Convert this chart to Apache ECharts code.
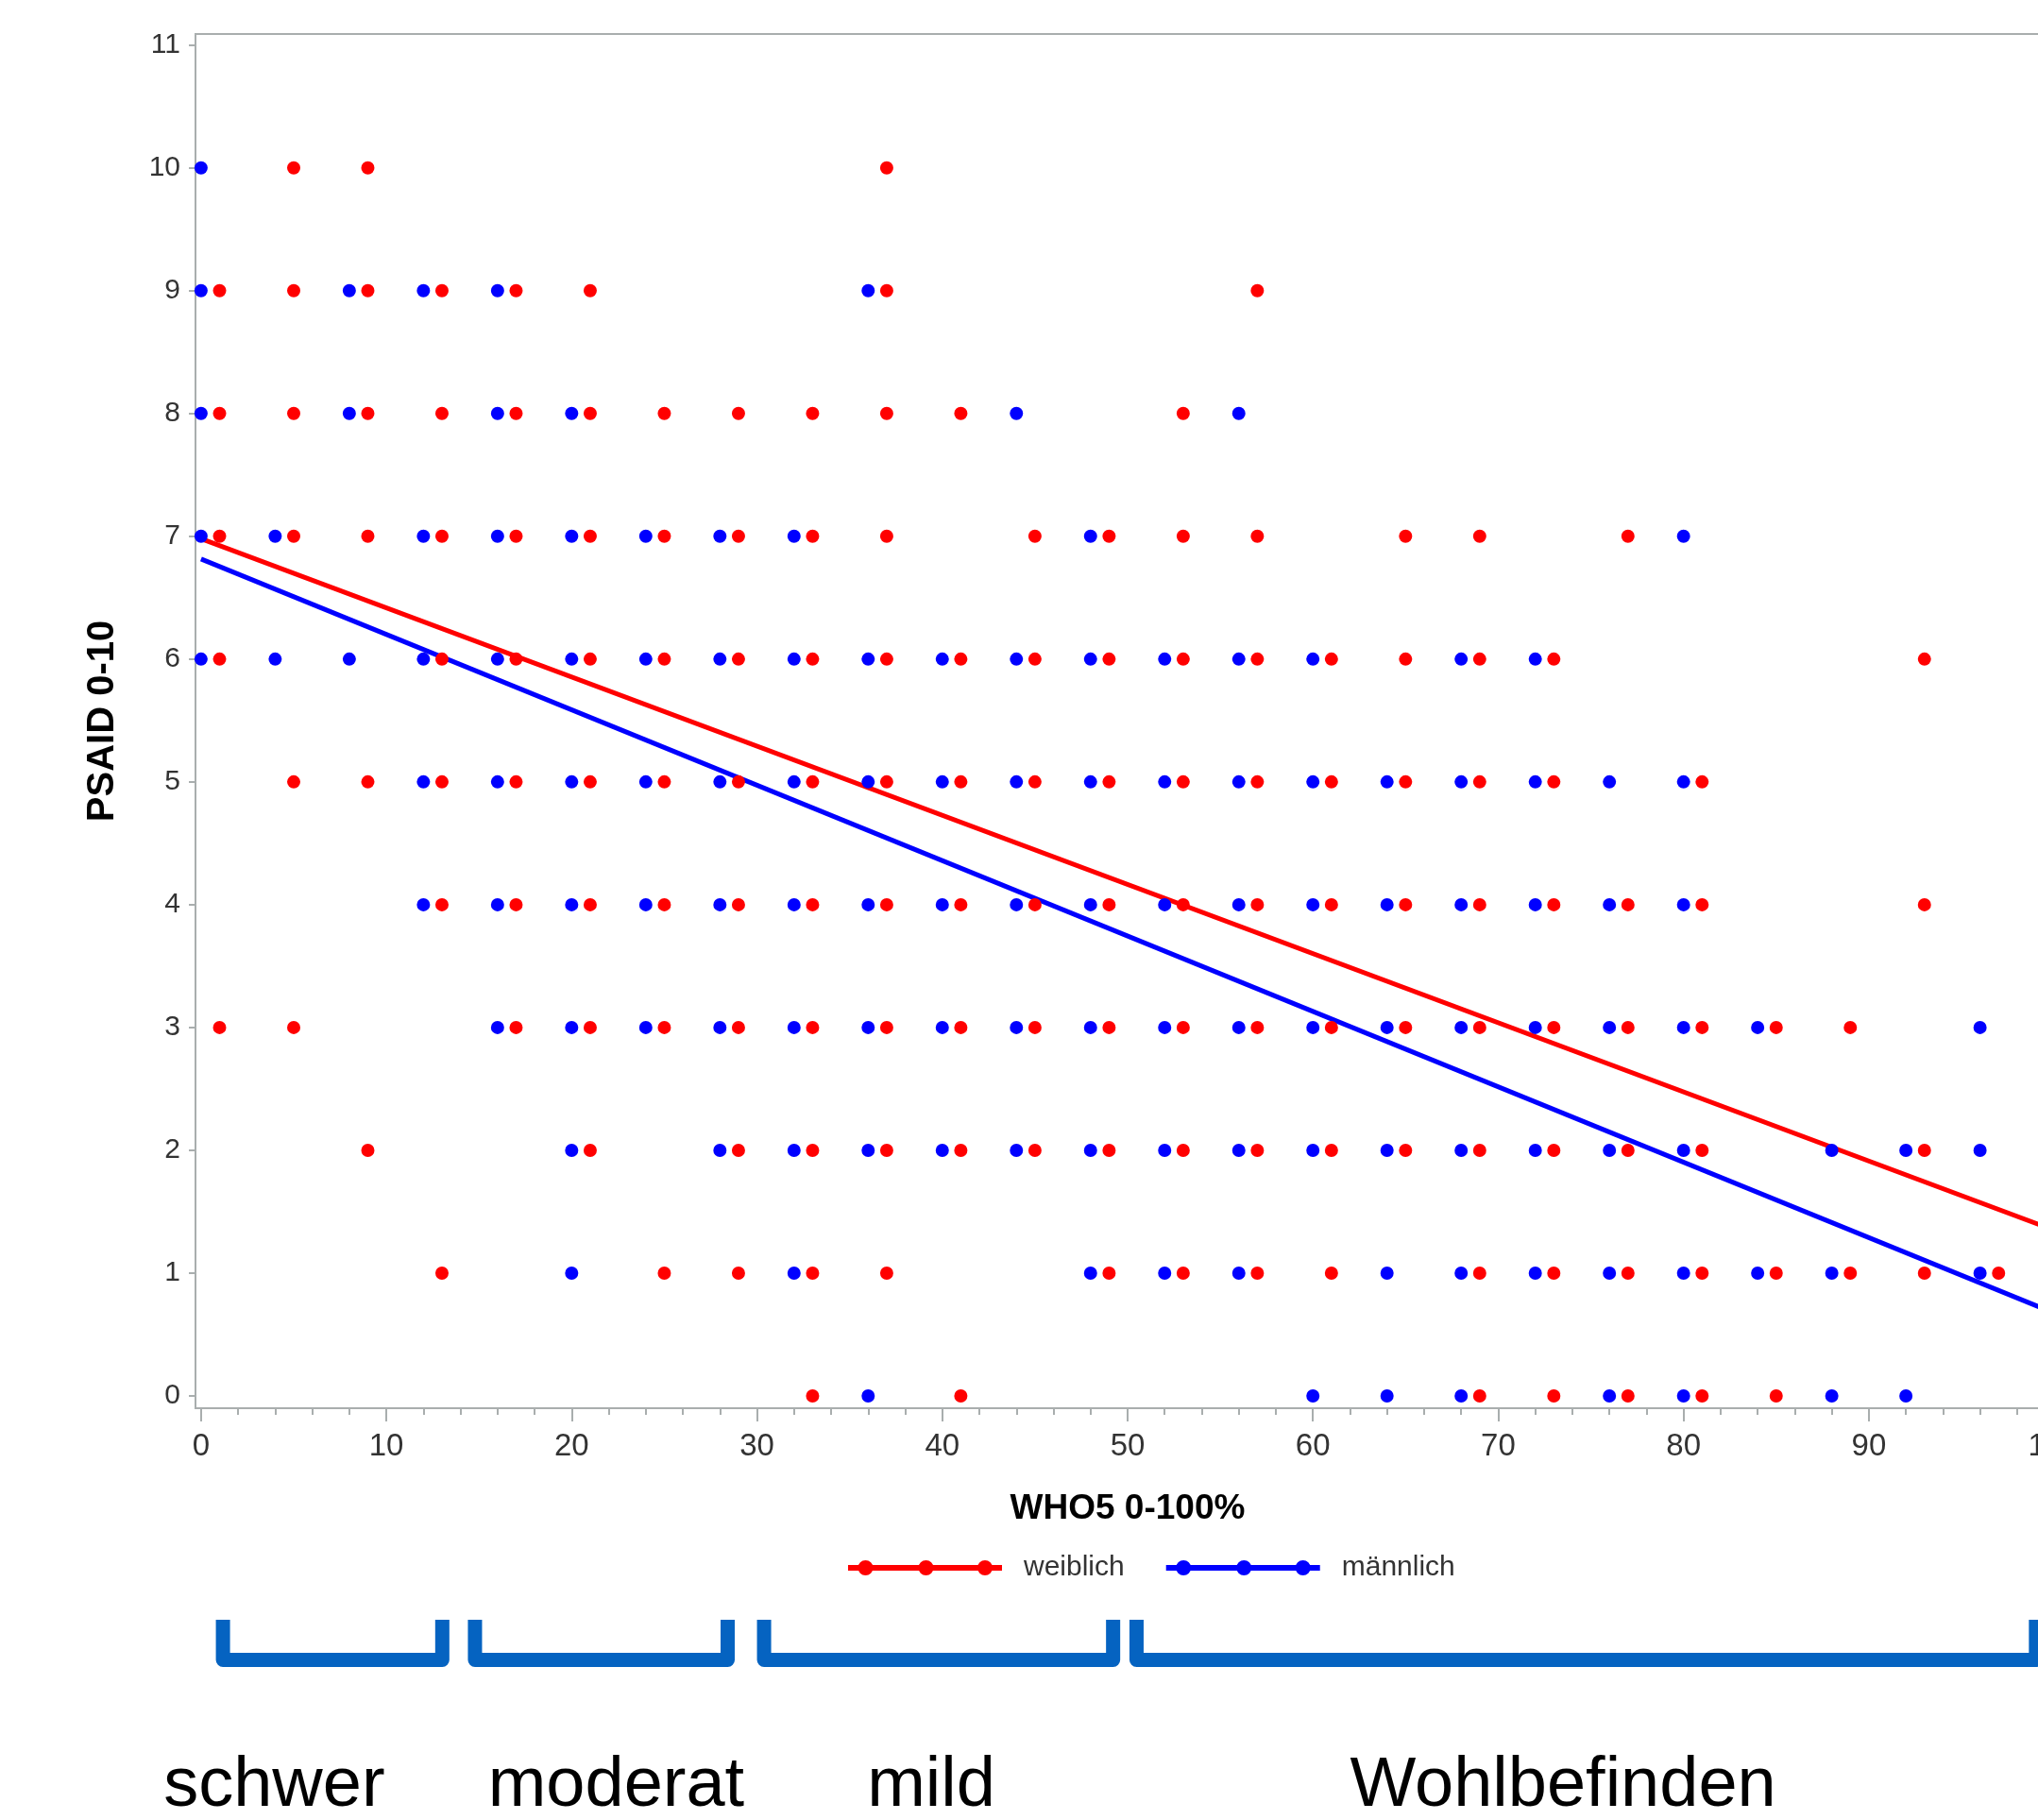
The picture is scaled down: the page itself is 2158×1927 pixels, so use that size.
<!DOCTYPE html>
<html><head><meta charset="utf-8">
<script src="https://cdn.jsdelivr.net/npm/echarts@6/dist/echarts.min.js"></script>
<style>html,body{margin:0;padding:0;background:#fff}#c{width:2158px;height:1927px}</style>
</head><body><div id="c"></div>
<script>
// ---- tick labels ----
const xMajorTicks = [0, 10, 20, 30, 40, 50, 60, 70, 80, 90, 100];
const xMinorTicks = [2,4,6,8,12,14,16,18,22,24,26,28,32,34,36,38,42,44,46,48,52,54,56,58,62,64,66,68,72,74,76,78,82,84,86,88,92,94,96,98];
const yTicks = [0, 1, 2, 3, 4, 5, 6, 7, 8, 9, 10, 11];

// ---- data: PSAID level rows and the WHO5 values observed on each row ----
const psaidLevels = [10, 9, 8, 7, 6, 5, 4, 3, 2, 1, 0];
const weiblichWho5 = [
  [5, 9, 37],
  [1, 5, 9, 13, 17, 21, 37, 57],
  [1, 5, 9, 13, 17, 21, 25, 29, 33, 37, 41, 53],
  [1, 5, 9, 13, 17, 21, 25, 29, 33, 37, 45, 49, 53, 57, 65, 69, 77],
  [1, 13, 17, 21, 25, 29, 33, 37, 41, 45, 49, 53, 57, 61, 65, 69, 73, 93],
  [5, 9, 13, 17, 21, 25, 29, 33, 37, 41, 45, 49, 53, 57, 61, 65, 69, 73, 81],
  [13, 17, 21, 25, 29, 33, 37, 41, 45, 49, 53, 57, 61, 65, 69, 73, 77, 81, 93],
  [1, 5, 17, 21, 25, 29, 33, 37, 41, 45, 49, 53, 57, 61, 65, 69, 73, 77, 81, 85, 89],
  [9, 21, 29, 33, 37, 41, 45, 49, 53, 57, 61, 65, 69, 73, 77, 81, 93],
  [13, 25, 29, 33, 37, 49, 53, 57, 61, 69, 73, 77, 81, 85, 89, 93, 97],
  [33, 41, 69, 73, 77, 81, 85]
];
const maennlichWho5 = [
  [0],
  [0, 8, 12, 16, 36],
  [0, 8, 16, 20, 44, 56],
  [0, 4, 12, 16, 20, 24, 28, 32, 48, 80],
  [0, 4, 8, 12, 16, 20, 24, 28, 32, 36, 40, 44, 48, 52, 56, 60, 68, 72],
  [12, 16, 20, 24, 28, 32, 36, 40, 44, 48, 52, 56, 60, 64, 68, 72, 76, 80],
  [12, 16, 20, 24, 28, 32, 36, 40, 44, 48, 52, 56, 60, 64, 68, 72, 76, 80],
  [16, 20, 24, 28, 32, 36, 40, 44, 48, 52, 56, 60, 64, 68, 72, 76, 80, 84, 96],
  [20, 28, 32, 36, 40, 44, 48, 52, 56, 60, 64, 68, 72, 76, 80, 88, 92, 96],
  [20, 32, 48, 52, 56, 64, 68, 72, 76, 80, 84, 88, 96],
  [36, 60, 64, 68, 76, 80, 88, 92]
];

// ---- regression lines (endpoints) ----
const fitX = [0, 100];
const weiblichFit = [6.98, 1.35];
const maennlichFit = [6.815, 0.675];

// ---- category brackets below the chart (WHO5 units) ----
const bracketStart = [0.8, 14.4, 30.0, 50.1];
const bracketEnd = [13.4, 28.8, 49.6, 99.4];
const bracketLabelCenter = [3.95, 22.4, 39.4, 73.5];
const bracketLabels = ['schwer', 'moderat', 'mild', 'Wohlbefinden'];

const seriesNames = ['weiblich', 'männlich'];

function toPoints(rows) {
  const out = [];
  rows.forEach(function (xs, i) { xs.forEach(function (x) { out.push([x, psaidLevels[i]]); }); });
  return out;
}

const FONT = "'Liberation Sans', Arial, sans-serif";
const AXIS_COLOR = '#a9aeae';
const RED = '#ff0000', BLUE = '#0000ff', BRACKET = '#0563c1';

function legendIcon() {
  return 'path://M0,5h163v6H0z' +
    'M10.5,8a8,8 0 1,1 16,0a8,8 0 1,1 -16,0z' +
    'M74.5,8a8,8 0 1,1 16,0a8,8 0 1,1 -16,0z' +
    'M137,8a8,8 0 1,1 16,0a8,8 0 1,1 -16,0z';
}

const chart = echarts.init(document.getElementById('c'), null, { renderer: 'canvas' });
const option = {
  animation: false,
  backgroundColor: '#fff',
  grid: { left: 207, top: 36, width: 1974, bottom: 436, outerBoundsMode: 'none', containLabel: false,
          show: true, borderColor: AXIS_COLOR, borderWidth: 2, backgroundColor: 'transparent' },
  legend: {
    data: [{ name: seriesNames[0], icon: legendIcon() }, { name: seriesNames[1], icon: legendIcon() }],
    left: 893, top: 1640,
    itemWidth: 163, itemHeight: 16, itemGap: 44,
    symbolKeepAspect: false,
    textStyle: { fontFamily: FONT, fontSize: 30, color: '#333', padding: [0, 0, 0, 18] }
  },
  xAxis: [{
    type: 'value', min: -0.3, max: 100.3, position: 'bottom', gridIndex: 0,
    name: 'WHO5 0-100%', nameLocation: 'middle', nameGap: 88,
    nameTextStyle: { fontFamily: FONT, fontSize: 37, fontWeight: 'bold', color: '#000' },
    axisLine: { show: true, onZero: false, lineStyle: { color: AXIS_COLOR, width: 2 } },
    axisTick: { show: true, length: 14, customValues: xMajorTicks, lineStyle: { color: AXIS_COLOR, width: 2 } },
    axisLabel: { show: true, customValues: xMajorTicks, margin: 24, fontFamily: FONT, fontSize: 33, color: '#333' },
    splitLine: { show: false }
  }, {
    type: 'value', min: -0.3, max: 100.3, position: 'bottom', gridIndex: 0, offset: 0,
    axisLine: { show: false, onZero: false },
    axisTick: { show: true, length: 7, customValues: xMinorTicks, lineStyle: { color: AXIS_COLOR, width: 2 } },
    axisLabel: { show: false },
    splitLine: { show: false }
  }],
  yAxis: {
    type: 'value', min: -0.1, max: 11.09,
    name: 'PSAID 0-10', nameLocation: 'middle', nameGap: 78, nameRotate: 90,
    nameTextStyle: { fontFamily: FONT, fontSize: 40, fontWeight: 'bold', color: '#000' },
    axisLine: { show: true, onZero: false, lineStyle: { color: AXIS_COLOR, width: 2 } },
    axisTick: { show: true, length: 7, customValues: yTicks, lineStyle: { color: AXIS_COLOR, width: 2 } },
    axisLabel: { show: true, customValues: yTicks, margin: 16, fontFamily: FONT, fontSize: 30, color: '#333' },
    splitLine: { show: false }
  },
  series: [
    {
      name: seriesNames[0], type: 'line', xAxisIndex: 0, color: RED,
      data: fitX.map(function (x, i) { return [x, weiblichFit[i]]; }),
      showSymbol: false, lineStyle: { color: RED, width: 5 }, z: 2, silent: true
    },
    {
      name: seriesNames[1], type: 'line', xAxisIndex: 0, color: BLUE,
      data: fitX.map(function (x, i) { return [x, maennlichFit[i]]; }),
      showSymbol: false, lineStyle: { color: BLUE, width: 5 }, z: 2, silent: true
    },
    {
      name: seriesNames[0], type: 'scatter', xAxisIndex: 0, color: RED,
      data: toPoints(weiblichWho5), symbol: 'circle', symbolSize: 14,
      itemStyle: { color: RED, opacity: 1 }, z: 3
    },
    {
      name: seriesNames[1], type: 'scatter', xAxisIndex: 0, color: BLUE,
      data: toPoints(maennlichWho5), symbol: 'circle', symbolSize: 14,
      itemStyle: { color: BLUE, opacity: 1 }, z: 3
    },
    {
      name: 'brackets', type: 'custom', xAxisIndex: 0, clip: false, silent: true,
      data: bracketStart.map(function (s, i) { return [s, bracketEnd[i], bracketLabelCenter[i]]; }),
      encode: { x: [0, 1, 2] },
      renderItem: function (params, api) {
        const i = params.dataIndex;
        const x0 = api.coord([api.value(0), 0])[0];
        const x1 = api.coord([api.value(1), 0])[0];
        const xc = api.coord([api.value(2), 0])[0];
        const cs = params.coordSys;
        const base = cs.y + cs.height;
        const w = 15, h = w / 2;
        const top = base + 224, bottom = base + 274;
        return {
          type: 'group',
          children: [
            {
              type: 'polyline',
              shape: { points: [[x0 + h, top], [x0 + h, bottom - h], [x1 - h, bottom - h], [x1 - h, top]] },
              style: { stroke: BRACKET, lineWidth: w, fill: null, lineJoin: 'round', lineCap: 'butt' }
            },
            {
              type: 'text',
              style: { text: bracketLabels[i], x: xc, y: base + 401, align: 'center', verticalAlign: 'middle',
                       fontFamily: FONT, fontSize: 74, fill: '#000' }
            }
          ]
        };
      }
    }
  ]
};
chart.setOption(option);
</script>
</body></html>
